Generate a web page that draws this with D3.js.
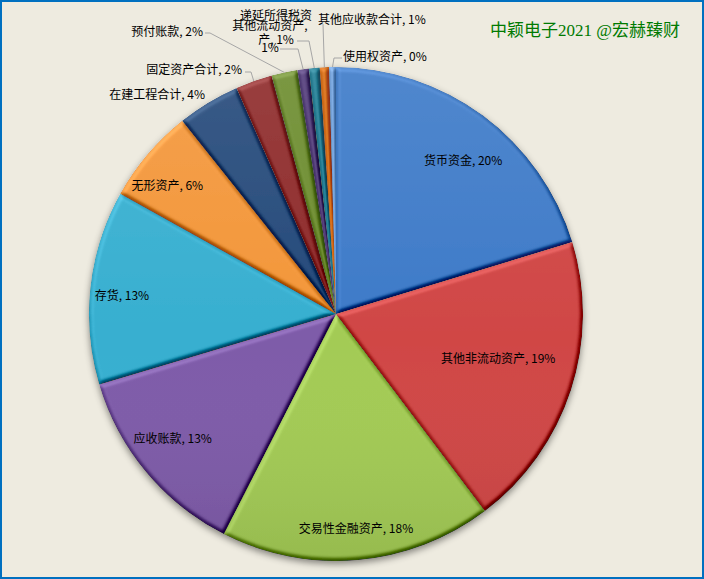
<!DOCTYPE html>
<html>
<head>
<meta charset="utf-8">
<script src="https://cdn.jsdelivr.net/npm/d3@7"></script>
<style>
  html, body { margin: 0; padding: 0; background: #EEEBE0; }
  svg { display: block; }
</style>
</head>
<body>
<svg id="chart" width="704" height="579"></svg>
<script>
// ---- data ----
const categories = ["货币资金", "其他非流动资产", "交易性金融资产", "应收账款", "存货", "无形资产",
  "在建工程合计", "固定资产合计", "预付账款", "其他流动资产", "递延所得税资产", "其他应收款合计", "使用权资产"];
const values = [20.3, 19.4, 17.8, 12.9, 12.7, 6.2, 4.1, 2.4, 1.7, 0.75, 0.7, 0.6, 0.45];
const colors = ["#3D7AC8", "#D04645", "#A3CB55", "#7E5BA9", "#37AFD0", "#F39639",
  "#24497A", "#8E2A2A", "#6C8C2E", "#503A78", "#1E7B92", "#D6690F", "#6FA0DC"];
const titleText = "中颖电子2021 @宏赫臻财";

// ---- layout (label placement, not data) ----
const W = 704, H = 579;
const cx = 336, cy = 314, R = 247;
const labelLayout = [
  { type: "in", r: 0.81, da: 2.9 },
  { type: "in", r: 0.68, da: -2.9 },
  { type: "in", r: 0.87, da: -0.3 },
  { type: "in", r: 0.83, da: 2.6 },
  { type: "in", r: 0.87, da: -1.2 },
  { type: "in", r: 0.86, da: -2.9 },
  { type: "out", x: -131, ys: [-221], anchor: "end" },
  { type: "out", x: -94, ys: [-246], anchor: "end", leader: [[-91, -242], [-85, -242]] },
  { type: "out", x: -133, ys: [-284], anchor: "end", leader: [[-131, -281], [-126, -281]] },
  { type: "out", x: -66, ys: [-290, -268], anchor: "middle", wrap: 7, leader: [[-56, -265], [-38, -265]] },
  { type: "out", x: -60, ys: [-300, -276], anchor: "middle", wrap: 6, leader: [[-39, -273], [-27, -273]] },
  { type: "out", x: -18, ys: [-296], anchor: "start", leader: [[-13, -290]] },
  { type: "out", x: 7, ys: [-259], anchor: "start", leader: [[6, -256], [-2, -256]] }
];

const svg = d3.select("#chart");
const defs = svg.append("defs");

// bevel filter
const elev = 55;
const bev = defs.append("filter").attr("id", "bevel")
  .attr("x", "-5%").attr("y", "-5%").attr("width", "110%").attr("height", "110%")
  .attr("color-interpolation-filters", "sRGB");
bev.append("feGaussianBlur").attr("in", "SourceAlpha").attr("stdDeviation", 2.2).attr("result", "blur");
const diff = bev.append("feDiffuseLighting").attr("in", "blur").attr("surfaceScale", 4)
  .attr("diffuseConstant", 1).attr("lighting-color", "#ffffff").attr("result", "diff");
diff.append("feDistantLight").attr("azimuth", 240).attr("elevation", elev);
bev.append("feComposite").attr("in", "SourceGraphic").attr("in2", "diff").attr("operator", "arithmetic")
  .attr("k1", 0).attr("k2", 1).attr("k3", 0.55).attr("k4", -0.55 * Math.sin(elev * Math.PI / 180)).attr("result", "lit");
bev.append("feComposite").attr("in", "lit").attr("in2", "SourceAlpha").attr("operator", "in");

// shadow filter
const sh = defs.append("filter").attr("id", "shadow")
  .attr("x", "-10%").attr("y", "-10%").attr("width", "120%").attr("height", "125%");
sh.append("feDropShadow").attr("dx", 0).attr("dy", 3).attr("stdDeviation", 3.5)
  .attr("flood-color", "#000").attr("flood-opacity", 0.45);

// overall gradient
const lg = defs.append("linearGradient").attr("id", "shade").attr("x1", 0).attr("y1", 0).attr("x2", 0).attr("y2", 1);
lg.append("stop").attr("offset", "0%").attr("stop-color", "#fff").attr("stop-opacity", 0.10);
lg.append("stop").attr("offset", "55%").attr("stop-color", "#fff").attr("stop-opacity", 0);
lg.append("stop").attr("offset", "100%").attr("stop-color", "#000").attr("stop-opacity", 0.08);

// background
svg.append("rect").attr("x", 0).attr("y", 0).attr("width", W).attr("height", H).attr("fill", "#EEEBE0");

const total = d3.sum(values);
const pie = d3.pie().sort(null).value(d => d)(values);
const arc = d3.arc().innerRadius(0).outerRadius(R);

const g = svg.append("g").attr("transform", `translate(${cx},${cy})`);
const pg = g.append("g").attr("filter", "url(#shadow)");
pg.selectAll("path.slice").data(pie).enter().append("path")
  .attr("class", "slice")
  .attr("d", arc)
  .attr("fill", (d, i) => colors[i])
  .attr("filter", "url(#bevel)");
pg.append("circle").attr("r", R).attr("fill", "url(#shade)").attr("pointer-events", "none");

const fmt = v => Math.round(v / total * 100) + "%";
const font = "'Noto Sans CJK SC', 'Microsoft YaHei', sans-serif";

pie.forEach((d, i) => {
  const L = labelLayout[i];
  const text = categories[i] + ", " + fmt(values[i]);
  const mid = (d.startAngle + d.endAngle) / 2;
  if (L.type === "in") {
    const a = mid + L.da * Math.PI / 180;
    const rr = L.r * R;
    g.append("text")
      .attr("x", rr * Math.sin(a)).attr("y", -rr * Math.cos(a))
      .attr("text-anchor", "middle").attr("dominant-baseline", "central")
      .attr("font-family", font).attr("font-size", 12).attr("fill", "#000")
      .text(text);
  } else {
    let lines = [text];
    if (L.wrap) lines = [text.slice(0, L.wrap).trim(), text.slice(L.wrap).trim()];
    lines.forEach((ln, k) => {
      g.append("text")
        .attr("x", L.x).attr("y", L.ys[k])
        .attr("text-anchor", L.anchor).attr("dominant-baseline", "central")
        .attr("font-family", font).attr("font-size", 12).attr("fill", "#000")
        .text(ln);
    });
    if (L.leader) {
      const edge = [R * Math.sin(mid), -R * Math.cos(mid)];
      const pts = L.leader.concat([edge]);
      g.append("path")
        .attr("d", d3.line()(pts))
        .attr("fill", "none").attr("stroke", "#A6A6A6").attr("stroke-width", 1);
    }
  }
});

// title
svg.append("text")
  .attr("x", 490).attr("y", 36)
  .attr("font-family", "'Liberation Serif', 'Noto Sans CJK SC', serif")
  .attr("font-size", 17).attr("fill", "#007A00")
  .text(titleText);

// border
svg.append("rect").attr("x", 1).attr("y", 1).attr("width", W - 2).attr("height", H - 2)
  .attr("fill", "none").attr("stroke", "#0070C0").attr("stroke-width", 2);
</script>
</body>
</html>
